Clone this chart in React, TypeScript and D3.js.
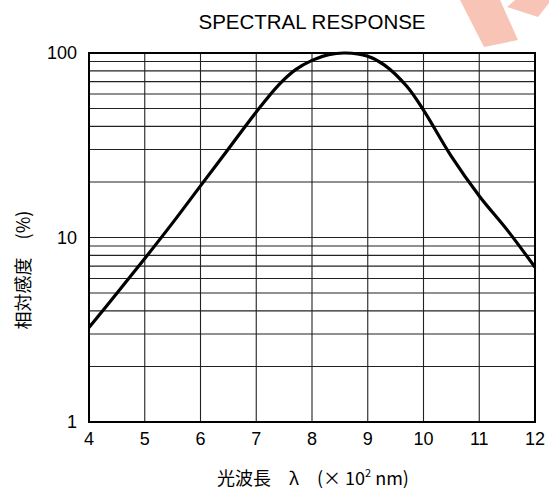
import * as d3 from 'd3';
import { useEffect, useRef } from 'react';

const wavelength = [4, 4.5, 5, 5.5, 6, 6.5, 7, 7.4, 7.7, 8, 8.3, 8.6, 9, 9.3, 9.7, 10, 10.5, 11, 11.5, 12];
const response = [3.25, 4.98, 7.69, 12.0, 19.05, 30.2, 47.9, 67, 81, 91.2, 98, 100, 96, 86, 66, 49, 27.5, 16.8, 11.0, 6.9];
const xTicks = [4, 5, 6, 7, 8, 9, 10, 11, 12];
const yLabels = [1, 10, 100];
const yGrid = [2, 3, 4, 5, 6, 7, 8, 9, 10, 20, 30, 40, 50, 60, 70, 80, 90];

const W = 549;
const H = 492;
const margin = { left: 89, right: 14, top: 53, bottom: 70 };

function App() {
  const svgElement = useRef<SVGSVGElement | null>(null);

  useEffect(() => {
    const svg = d3.select(svgElement.current);
    svg.selectAll('*').remove();

    const x = d3.scaleLinear().domain([4, 12]).range([margin.left, W - margin.right]);
    const y = d3.scaleLog().domain([1, 100]).range([H - margin.bottom, margin.top]);

    // watermark
    svg
      .append('g')
      .attr('fill', '#f8c4b6')
      .selectAll('polygon')
      .data([
        '460,0 500,0 518,40 484,47',
        '507,7 515,0 549,0 549,3 538,17',
      ])
      .join('polygon')
      .attr('points', (d) => d);

    const g = svg.append('g');

    // grid
    g.selectAll('.hgrid')
      .data(yGrid)
      .join('line')
      .attr('class', 'hgrid')
      .attr('x1', x(4))
      .attr('x2', x(12))
      .attr('y1', (d) => y(d))
      .attr('y2', (d) => y(d))
      .attr('stroke', '#222')
      .attr('stroke-width', 1.1);

    g.selectAll('.vgrid')
      .data(xTicks.slice(1, -1))
      .join('line')
      .attr('class', 'vgrid')
      .attr('x1', (d) => x(d))
      .attr('x2', (d) => x(d))
      .attr('y1', y(1))
      .attr('y2', y(100))
      .attr('stroke', '#222')
      .attr('stroke-width', 1.1);

    // frame
    g.append('rect')
      .attr('x', x(4))
      .attr('y', y(100))
      .attr('width', x(12) - x(4))
      .attr('height', y(1) - y(100))
      .attr('fill', 'none')
      .attr('stroke', '#000')
      .attr('stroke-width', 2);

    // curve
    const line = d3
      .line<number>()
      .x((_, i) => x(wavelength[i]))
      .y((d) => y(d))
      .curve(d3.curveCatmullRom.alpha(0.5));

    g.append('path')
      .datum(response)
      .attr('d', line)
      .attr('fill', 'none')
      .attr('stroke', '#000')
      .attr('stroke-width', 3.2)
      .attr('stroke-linejoin', 'round');

    const font = "'Liberation Sans', Arial, sans-serif";

    // x tick labels
    g.selectAll('.xlab')
      .data(xTicks)
      .join('text')
      .attr('class', 'xlab')
      .attr('x', (d) => x(d))
      .attr('y', y(1) + 23)
      .attr('text-anchor', 'middle')
      .attr('font-family', font)
      .attr('font-size', 18)
      .text((d) => d);

    // y tick labels
    g.selectAll('.ylab')
      .data(yLabels)
      .join('text')
      .attr('class', 'ylab')
      .attr('x', x(4) - 12)
      .attr('y', (d) => y(d) + 6)
      .attr('text-anchor', 'end')
      .attr('font-family', font)
      .attr('font-size', 18)
      .text((d) => d);

    // title
    svg
      .append('text')
      .attr('x', 312)
      .attr('y', 29)
      .attr('text-anchor', 'middle')
      .attr('font-family', font)
      .attr('font-size', 20.5)
      .text('SPECTRAL RESPONSE');

    // x axis label
    const xl = svg
      .append('text')
      .attr('x', 313)
      .attr('y', 485)
      .attr('text-anchor', 'middle')
      .attr('font-family', "'Noto Sans CJK JP', sans-serif")
      .attr('font-size', 18);
    xl.append('tspan').text('光波長　λ　(× 10');
    xl.append('tspan').attr('font-size', 11).attr('dy', -8).text('2');
    xl.append('tspan').attr('dy', 8).text(' nm)');

    // y axis label
    svg
      .append('text')
      .attr('transform', `translate(30, 270) rotate(-90)`)
      .attr('text-anchor', 'middle')
      .attr('font-family', "'Noto Sans CJK JP', sans-serif")
      .attr('font-size', 18)
      .text('相対感度　(%)');
  }, []);

  return (
    <div style={{ position: 'absolute', left: 0, top: 0 }}>
      <svg ref={svgElement} width={W} height={H} style={{ display: 'block', background: '#fff' }} />
    </div>
  );
}

export default App;
